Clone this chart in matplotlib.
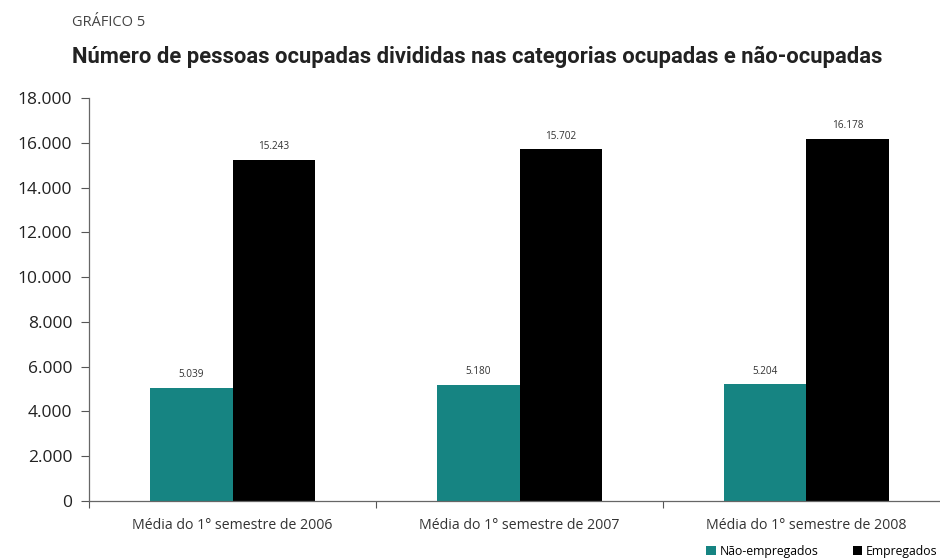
import numpy as np
import matplotlib.pyplot as plt
from matplotlib.ticker import FuncFormatter, FixedLocator

# dados
categorias = ['Média do 1° semestre de 2006', 'Média do 1° semestre de 2007', 'Média do 1° semestre de 2008']
nao_empregados = [5039, 5180, 5204]
empregados = [15243, 15702, 16178]
series_nomes = ['Não-empregados', 'Empregados']

cor_teal = '#168482'
cor_preto = '#000000'

plt.rcParams['font.family'] = ['Open Sans', 'DejaVu Sans']

fig = plt.figure(figsize=(9.4, 5.59), dpi=100)
ax = fig.add_axes([89/940, 1 - 501/559, 861/940, (501 - 98)/559])

x = np.arange(len(categorias))
w = 0.289
b1 = ax.bar(x - w/2, nao_empregados, w, color=cor_teal, label=series_nomes[0])
b2 = ax.bar(x + w/2, empregados, w, color=cor_preto, label=series_nomes[1])

def milhar(v, pos=None):
    return f"{int(v):,}".replace(',', '.')

for barras in [b1, b2]:
    for r in barras:
        ax.text(r.get_x() + r.get_width()/2, r.get_height() + 350, milhar(r.get_height()),
                ha='center', va='bottom', fontsize=7.2, color='#333333')

ax.set_ylim(0, 18000)
ax.set_yticks(np.arange(0, 18001, 2000))
ax.yaxis.set_major_formatter(FuncFormatter(milhar))
ax.tick_params(axis='y', labelsize=12.5, length=6, width=0.8, colors='#555555', labelcolor='#222222', pad=6)

ax.set_xlim(-0.5, 2.5)
ax.xaxis.set_major_locator(FixedLocator([-0.5, 0.5, 1.5, 2.5]))
ax.set_xticklabels([])
ax.xaxis.set_minor_locator(FixedLocator(x))
ax.set_xticklabels(categorias, minor=True)
ax.tick_params(axis='x', which='major', length=5, width=0.8, colors='#555555')
ax.tick_params(axis='x', which='minor', length=0, labelsize=10.2, labelcolor='#333333', pad=12)

for s in ['top', 'right']:
    ax.spines[s].set_visible(False)
for s in ['left', 'bottom']:
    ax.spines[s].set_color('#666666')
    ax.spines[s].set_linewidth(0.9)

fig.text(72/940, 1 - 22/559, 'GRÁFICO 5', fontsize=10.5, color='#444444', va='center')
titulo = fig.text(72/940, 1 - 57/559, 'Número de pessoas ocupadas divididas nas categorias ocupadas e não-ocupadas',
                  fontsize=15, fontweight='bold', color='#222222', va='center',
                  family=['Roboto', 'DejaVu Sans'])

# ajusta o tamanho do título para a largura do original (~812 px)
r = fig.canvas.get_renderer()
largura = titulo.get_window_extent(r).width
titulo.set_fontsize(15 * 812 / largura)

fig.legend(handles=[b1, b2], labels=series_nomes, loc='center left', bbox_to_anchor=(700/940, 1 - 551/559),
           ncol=2, frameon=False, fontsize=8.8, handlelength=0.8, handleheight=0.8,
           handletextpad=0.3, columnspacing=2.8, borderpad=0)

fig.savefig('out.png', dpi=100)
